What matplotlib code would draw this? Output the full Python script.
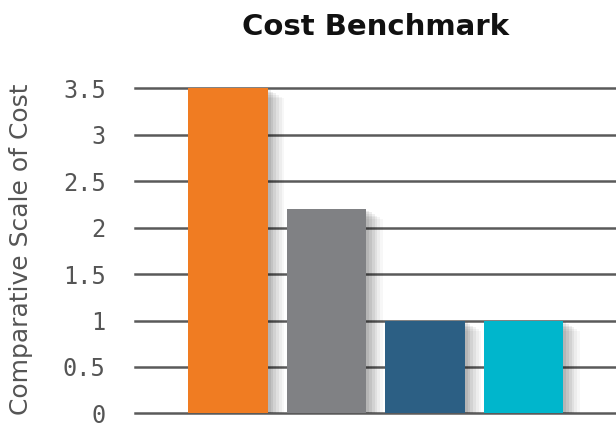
import matplotlib.pyplot as plt
import matplotlib.patheffects as pe

# bar values
categories = ["A", "B", "C", "D"]
values = [3.5, 2.2, 1.0, 1.0]
colors = ["#f07c22", "#808184", "#2c5f84", "#00b6cc"]
yticks = [0, 0.5, 1, 1.5, 2, 2.5, 3, 3.5]
ytick_labels = ["0", "0.5", "1", "1.5", "2", "2.5", "3", "3.5"]

fig = plt.figure(figsize=(6.16, 4.28), dpi=100)
ax = fig.add_axes([0.219, 0.034, 0.781, 0.76])

# soft drop shadow built from a few offset, faint copies
shadow = [
    pe.SimplePatchShadow(offset=(o, -o * 0.6), shadow_rgbFace="black", alpha=a)
    for o, a in [(12, 0.03), (10, 0.04), (8, 0.05), (6, 0.06), (4, 0.07), (2, 0.07)]
]

x = list(range(len(categories)))
bars = ax.bar(x, values, width=0.81, color=colors, zorder=3)
for b in bars:
    b.set_path_effects(shadow + [pe.Normal()])

ax.set_xlim(-0.944, 3.94)
ax.set_ylim(0, 3.5)
ax.set_yticks(yticks)
ax.set_yticklabels(ytick_labels, family="DejaVu Sans Mono", fontsize=17, color="#555555")
for lbl in ax.get_yticklabels():
    lbl.set_verticalalignment("center_baseline")
ax.set_xticks([])
ax.tick_params(axis="y", length=0, pad=21)

ax.yaxis.grid(True, color="#5a5a5a", linewidth=1.8, zorder=0)
for gl in ax.get_ygridlines():
    gl.set_clip_on(False)
ax.set_axisbelow(True)
for s in ax.spines.values():
    s.set_visible(False)

ax.set_ylabel("Comparative Scale of Cost", fontsize=18, color="#555555")
ax.yaxis.set_label_coords(-0.212, 0.505)
ax.set_title("Cost Benchmark", fontsize=21, fontweight="bold", color="#111111", pad=38)

fig.savefig("out.png", dpi=100)
